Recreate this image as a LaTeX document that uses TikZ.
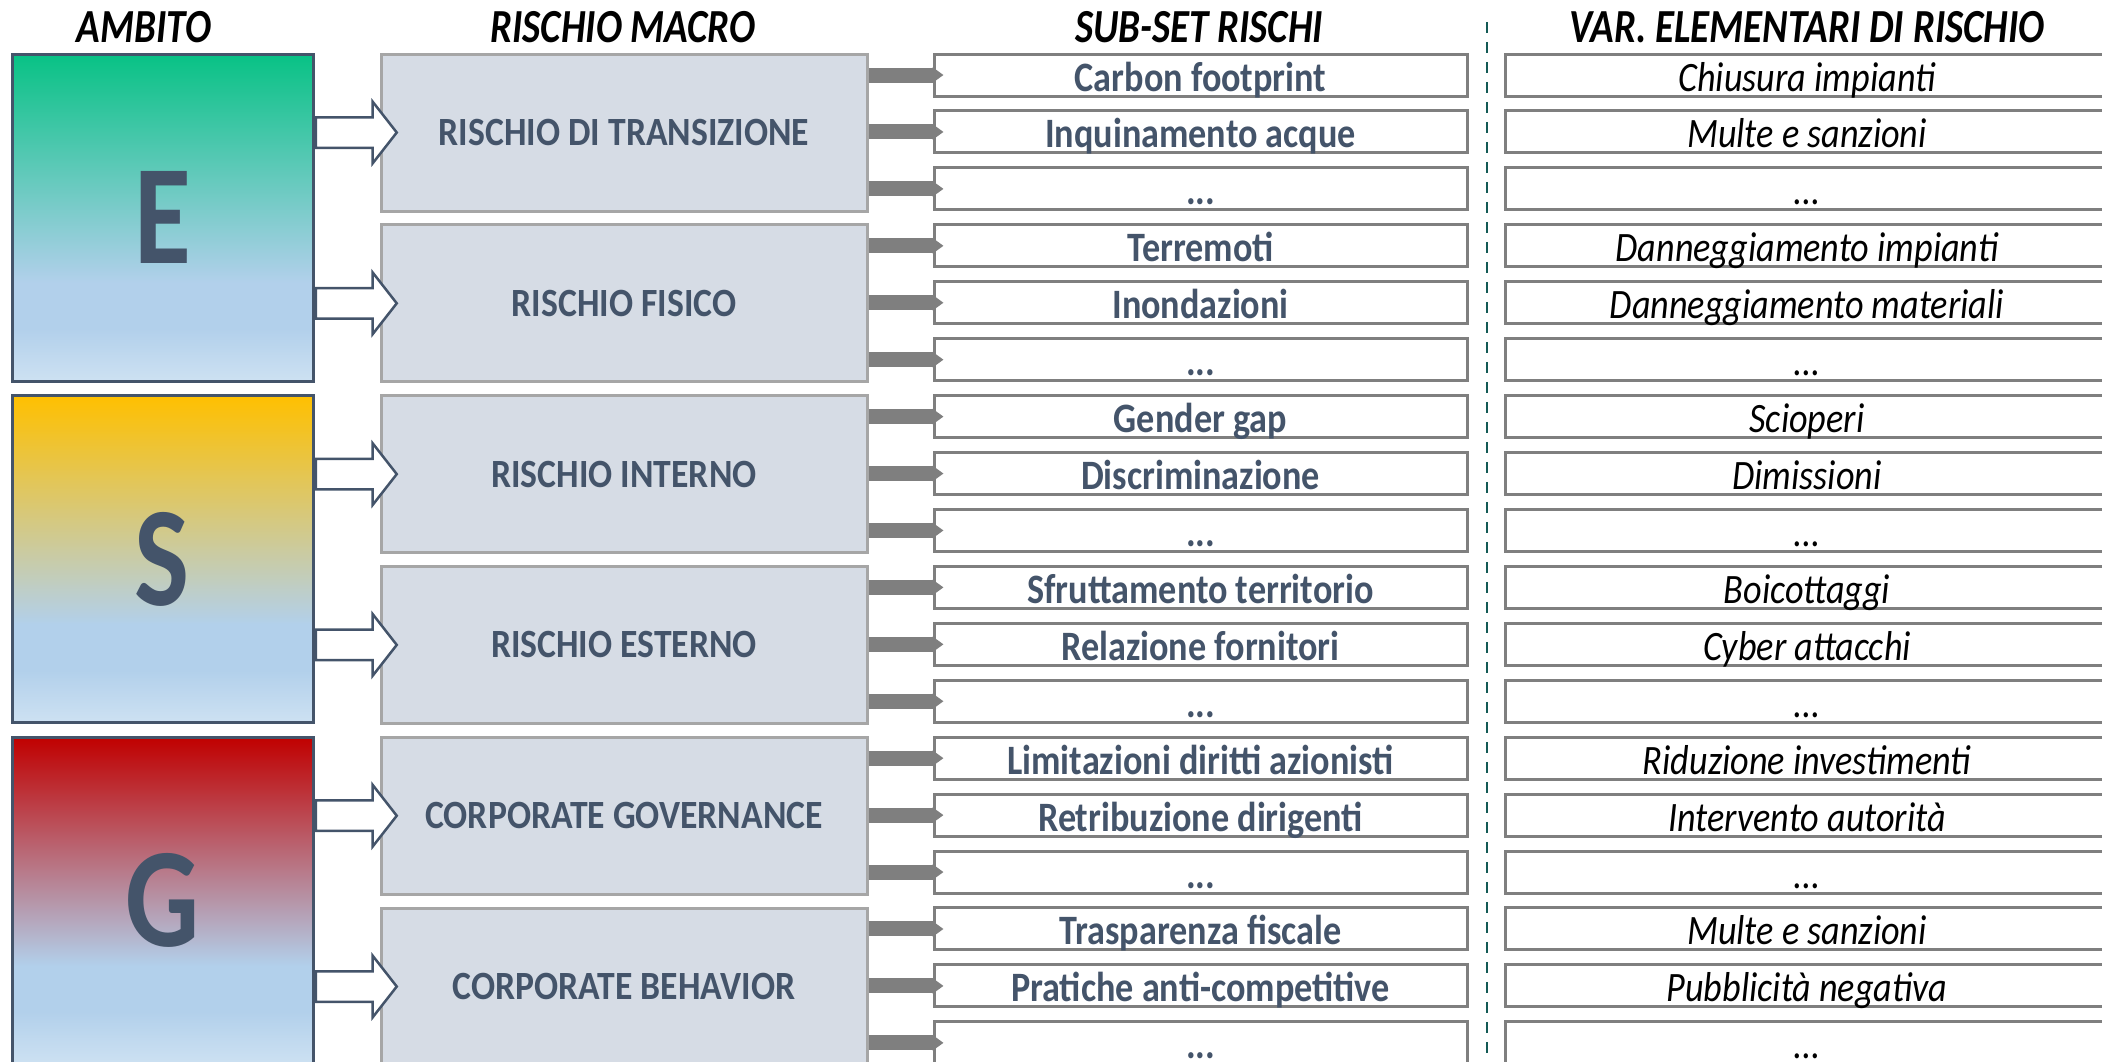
\documentclass[tikz,border=0pt]{standalone}
\usepackage{fontspec}
\setmainfont{Carlito}[FakeStretch=0.82]
\newfontfamily\boxfont{Carlito}[FakeStretch=0.865]
\newfontfamily\macrofont{Carlito}[FakeStretch=0.89]
\usetikzlibrary{positioning, shapes.arrows, arrows.meta}

\definecolor{txtblue}{RGB}{68,84,106}
\definecolor{macrofill}{RGB}{214,220,229}
\definecolor{macroline}{RGB}{166,166,166}
\definecolor{subline}{RGB}{127,127,127}
\definecolor{dashgreen}{RGB}{20,90,85}
\definecolor{lowblue}{RGB}{205,225,242}
\definecolor{midblue}{RGB}{178,208,235}
\definecolor{etop}{RGB}{8,194,133}
\definecolor{stop}{RGB}{255,192,0}
\definecolor{gtop}{RGB}{192,0,0}
\newcommand{\puntini}{...}

% fasce colorate E, S, G
\pgfdeclareverticalshading{eshade}{100bp}{color(0bp)=(lowblue); color(25bp)=(lowblue); color(33bp)=(midblue); color(40bp)=(midblue); color(75bp)=(etop); color(100bp)=(etop)}
\pgfdeclareverticalshading{sshade}{100bp}{color(0bp)=(lowblue); color(25bp)=(lowblue); color(33bp)=(midblue); color(40bp)=(midblue); color(75bp)=(stop); color(100bp)=(stop)}
\pgfdeclareverticalshading{gshade}{100bp}{color(0bp)=(lowblue); color(25bp)=(lowblue); color(33bp)=(midblue); color(40bp)=(midblue); color(75bp)=(gtop); color(100bp)=(gtop)}

\begin{document}
\begin{tikzpicture}[
  hdr/.style={font=\fontsize{13.5}{16}\selectfont\bfseries\itshape, anchor=base},
  ambito/.style={draw=txtblue, line width=0.03cm, minimum width=3.01cm, minimum height=3.27cm, inner sep=0pt, text=txtblue, font=\fontsize{40.4}{48}\selectfont\bfseries},
  macro/.style={draw=macroline, fill=macrofill, line width=0.03cm, minimum width=4.86cm, minimum height=1.57cm, inner sep=0pt, text=txtblue, font=\macrofont\fontsize{11.4}{13}\selectfont\bfseries},
  riga/.style={draw=subline, fill=white, line width=0.03cm, minimum height=0.42cm, inner sep=0pt, text height=0.32cm, text depth=0pt},
  subset/.style={riga, minimum width=5.33cm, text=txtblue, font=\boxfont\fontsize{11.9}{13}\selectfont\bfseries},
  elem/.style={riga, minimum width=6.04cm, font=\boxfont\fontsize{11.9}{13}\selectfont\itshape},
  blockarr/.style={single arrow, draw=txtblue, fill=white, line width=0.025cm, minimum height=0.81cm, text height=0.28cm, text depth=0pt, single arrow head extend=0.155cm, single arrow tip angle=104, inner sep=0pt, anchor=tail},
  grayarr/.style={draw=subline, line width=0.15cm, -{Triangle[length=0.11cm, width=0.15cm]}}
]
\useasboundingbox (0,0) rectangle (21.02,-10.61);
\clip (0,0) rectangle (21.02,-10.61);

\node[hdr] (h1) at (1.44,-0.42) {AMBITO};
\node[hdr] (h2) at (6.23,-0.42) {RISCHIO MACRO};
\node[hdr] (h3) at (11.99,-0.42) {SUB-SET RISCHI};
\node[hdr] (h4) at (18.07,-0.42) {VAR. ELEMENTARI DI RISCHIO};

\foreach \l/\c [count=\i from 0] in {E/eshade, S/sshade, G/gshade}{
	\node[ambito, shading=\c] (a\i) at (1.625, {-2.175-3.415*\i}) {\l};
}

\foreach \t [count=\i from 0] in {RISCHIO DI TRANSIZIONE, RISCHIO FISICO, RISCHIO INTERNO, RISCHIO ESTERNO, CORPORATE GOVERNANCE, CORPORATE BEHAVIOR}{
	\node[macro] (m\i) at (6.24, {-1.325-1.708*\i}) {\t};
	\pgfmathtruncatemacro\j{int(\i/2)}
	\node[blockarr] (f\i) at (a\j.east |- m\i.west) {};
}

\foreach \s/\v [count=\k from 0] in {Carbon footprint/Chiusura impianti, Inquinamento acque/Multe e sanzioni, \puntini/\puntini, Terremoti/Danneggiamento impianti, Inondazioni/Danneggiamento materiali, \puntini/\puntini, Gender gap/Scioperi, Discriminazione/Dimissioni, \puntini/\puntini, Sfruttamento territorio/Boicottaggi, Relazione fornitori/Cyber attacchi, \puntini/\puntini, Limitazioni diritti azionisti/Riduzione investimenti, Retribuzione dirigenti/Intervento autorità, \puntini/\puntini, Trasparenza fiscale/Multe e sanzioni, Pratiche anti-competitive/Pubblicità negativa, \puntini/\puntini}{
	\node[subset] (s\k) at (12.005, {-0.75-0.5693*\k}) {\s};
	\node[elem] (v\k) at (18.07, {-0.75-0.5693*\k}) {\v};
	\pgfmathtruncatemacro\m{int(\k/3)}
	\draw[grayarr] (m\m.east |- s\k.west) -- ([xshift=0.11cm]s\k.west);
}

% separatore
\coordinate (sepA) at (14.87,-0.22);
\coordinate (sepB) at (14.87,-10.7);
\draw[dashgreen, line width=0.02cm, dash pattern=on 0.11cm off 0.09cm] (sepA) -- (sepB);
\end{tikzpicture}
\end{document}
